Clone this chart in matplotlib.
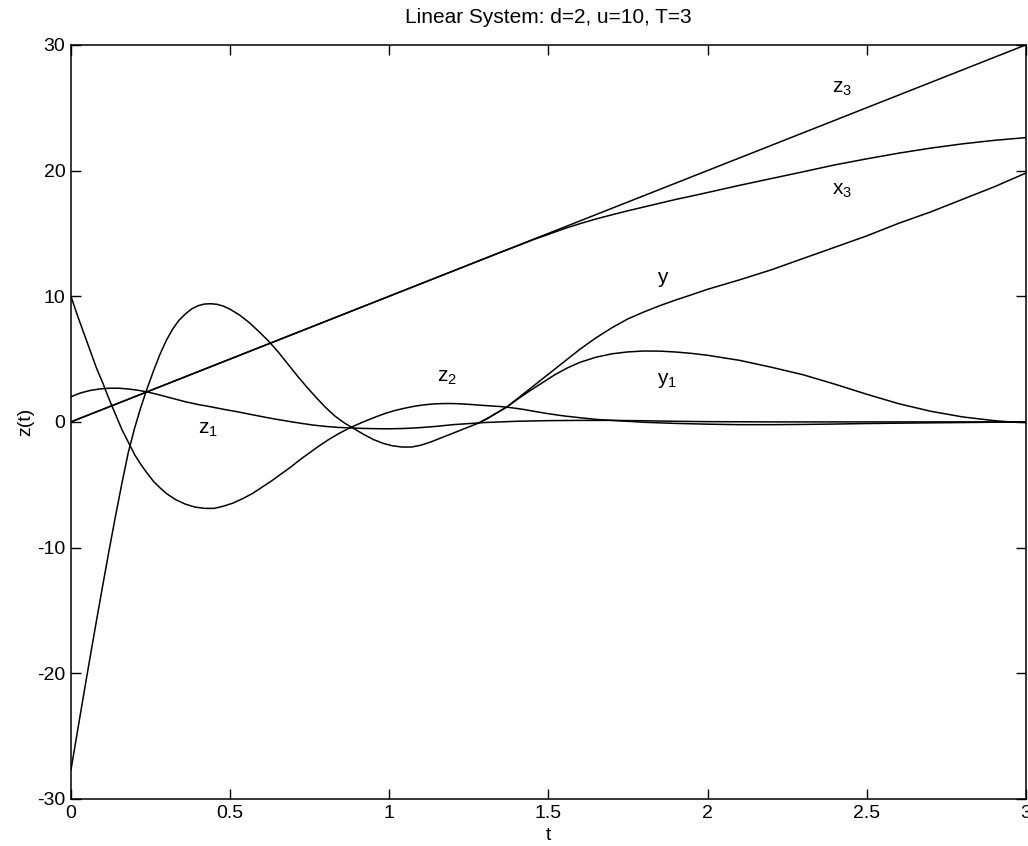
import matplotlib
matplotlib.use("Agg")
import matplotlib.pyplot as plt

plt.rcParams['font.family'] = ['Liberation Sans', 'DejaVu Sans']
plt.rcParams['axes.unicode_minus'] = False
plt.rcParams['mathtext.fontset'] = 'custom'
plt.rcParams['mathtext.rm'] = 'Liberation Sans'

title = "Linear System: d=2, u=10, T=3"
xlabel = "t"
ylabel = "z(t)"

# z3: straight line
z3_t = [0.0, 3.0]
z3_v = [0.0, 30.0]

# x3
x3_t = [0.0, 1.35, 1.4, 1.45, 1.5, 1.55, 1.6, 1.65, 1.7, 1.75, 1.8, 1.85, 1.9, 1.95,
        2.0, 2.1, 2.2, 2.3, 2.4, 2.5, 2.6, 2.7, 2.8, 2.9, 3.0]
x3_v = [0.0, 13.5, 13.98, 14.48, 14.92, 15.38, 15.78, 16.15, 16.48, 16.8, 17.1, 17.4, 17.7, 17.97,
        18.25, 18.82, 19.36, 19.9, 20.45, 20.93, 21.38, 21.78, 22.12, 22.4, 22.62]

# y
y_t = [0.0, 0.02, 0.04, 0.06, 0.08, 0.10, 0.12, 0.14, 0.16, 0.18, 0.20, 0.22, 0.24, 0.26,
       0.28, 0.30, 0.32, 0.34, 0.36, 0.38, 0.40, 0.42, 0.44, 0.46, 0.48, 0.50, 0.53, 0.56,
       0.59, 0.62, 0.65, 0.68, 0.71, 0.74, 0.77, 0.80, 0.83, 0.86, 0.89, 0.92, 0.95, 0.98,
       1.01, 1.04, 1.07, 1.10, 1.13, 1.16, 1.19, 1.22, 1.25, 1.28, 1.31, 1.34, 1.37, 1.40,
       1.44, 1.48, 1.52, 1.56, 1.60, 1.65, 1.70, 1.75, 1.80, 1.85, 1.90, 1.95, 2.0, 2.1,
       2.2, 2.3, 2.4, 2.5, 2.6, 2.7, 2.8, 2.9, 3.0]
y_v = [-27.7, -24.7, -21.7, -18.75, -15.85, -13.0, -10.2, -7.5, -4.9, -2.45, -0.5, 1.2, 2.7, 4.1,
       5.4, 6.5, 7.4, 8.1, 8.6, 9.0, 9.25, 9.38, 9.4, 9.35, 9.2, 8.96, 8.5, 7.9,
       7.2, 6.45, 5.6, 4.65, 3.7, 2.8, 1.95, 1.15, 0.45, -0.1, -0.55, -1.0, -1.4, -1.7,
       -1.9, -2.0, -2.0, -1.85, -1.6, -1.3, -1.0, -0.7, -0.4, -0.1, 0.3, 0.75, 1.2, 1.8,
       2.6, 3.4, 4.2, 5.0, 5.8, 6.7, 7.5, 8.2, 8.75, 9.25, 9.7, 10.12, 10.55, 11.3,
       12.1, 13.0, 13.9, 14.8, 15.8, 16.7, 17.7, 18.7, 19.8]

# y1 (branches off y)
y1_t = [1.28, 1.31, 1.34, 1.37, 1.40, 1.44, 1.48, 1.52, 1.56, 1.60, 1.65, 1.70, 1.75, 1.80,
        1.85, 1.90, 1.95, 2.0, 2.1, 2.2, 2.3, 2.4, 2.5, 2.6, 2.7, 2.8, 2.9, 2.95, 3.0]
y1_v = [-0.1, 0.3, 0.75, 1.2, 1.75, 2.45, 3.1, 3.75, 4.3, 4.75, 5.15, 5.42, 5.57, 5.64,
        5.63, 5.56, 5.45, 5.3, 4.9, 4.35, 3.75, 3.0, 2.2, 1.45, 0.85, 0.4, 0.1, 0.0, -0.05]

# z2
z2_t = [0.0, 0.02, 0.04, 0.06, 0.08, 0.10, 0.12, 0.14, 0.16, 0.18, 0.20, 0.22, 0.24, 0.26,
        0.28, 0.30, 0.33, 0.36, 0.39, 0.42, 0.45, 0.48, 0.51, 0.54, 0.57, 0.60, 0.63, 0.66,
        0.69, 0.72, 0.75, 0.78, 0.81, 0.84, 0.87, 0.90, 0.93, 0.96, 0.99, 1.02, 1.05, 1.08,
        1.11, 1.14, 1.17, 1.20, 1.23, 1.26, 1.29, 1.32, 1.35, 1.38, 1.42, 1.46, 1.50, 1.55,
        1.60, 1.65, 1.70, 1.80, 1.90, 2.0, 2.1, 2.2, 2.3, 2.4, 2.5, 2.6, 2.8, 3.0]
z2_v = [10.0, 8.5, 7.1, 5.7, 4.3, 3.1, 1.8, 0.6, -0.6, -1.6, -2.6, -3.4, -4.1, -4.75,
        -5.25, -5.7, -6.2, -6.55, -6.78, -6.88, -6.88, -6.7, -6.45, -6.1, -5.7, -5.2, -4.7, -4.15,
        -3.6, -3.0, -2.45, -1.9, -1.4, -0.95, -0.55, -0.2, 0.12, 0.42, 0.7, 0.92, 1.1, 1.25,
        1.36, 1.43, 1.46, 1.46, 1.43, 1.38, 1.32, 1.27, 1.22, 1.14, 1.0, 0.82, 0.65, 0.47,
        0.33, 0.2, 0.12, -0.03, -0.12, -0.18, -0.22, -0.22, -0.2, -0.17, -0.13, -0.1, -0.05, 0.0]

# z1
z1_t = [0.0, 0.03, 0.06, 0.09, 0.12, 0.15, 0.18, 0.21, 0.24, 0.27, 0.30, 0.33, 0.36, 0.40,
        0.44, 0.48, 0.52, 0.56, 0.60, 0.64, 0.68, 0.72, 0.76, 0.80, 0.84, 0.88, 0.92, 0.96,
        1.0, 1.05, 1.1, 1.15, 1.2, 1.3, 1.4, 1.5, 1.6, 1.7, 1.8, 1.9, 2.0, 2.2, 3.0]
z1_v = [2.0, 2.3, 2.5, 2.62, 2.68, 2.68, 2.62, 2.52, 2.38, 2.2, 2.0, 1.8, 1.6, 1.38,
        1.2, 1.0, 0.82, 0.62, 0.42, 0.23, 0.06, -0.1, -0.25, -0.36, -0.44, -0.48, -0.52, -0.54,
        -0.55, -0.52, -0.45, -0.35, -0.22, -0.05, 0.05, 0.1, 0.12, 0.12, 0.09, 0.05, 0.02, 0.0, 0.0]

labels = [r'$\mathregular{z_3}$', r'$\mathregular{x_3}$', r'$\mathregular{y}$',
          r'$\mathregular{y_1}$', r'$\mathregular{z_2}$', r'$\mathregular{z_1}$']
label_t = [2.39, 2.39, 1.84, 1.84, 1.15, 0.40]
label_v = [26.5, 18.4, 11.3, 3.3, 3.5, -0.6]

fig = plt.figure(figsize=(10.28, 8.46), dpi=100)
ax = fig.add_axes([0.069, 0.0556, 0.929, 0.8914])

for t, v in [(z3_t, z3_v), (x3_t, x3_v), (y_t, y_v), (y1_t, y1_v), (z2_t, z2_v), (z1_t, z1_v)]:
    ax.plot(t, v, color='black', linewidth=1.1)

for s, tx, vy in zip(labels, label_t, label_v):
    ax.text(tx, vy, s, fontsize=15, ha='left', va='center')

ax.set_xlim(0, 3)
ax.set_ylim(-30, 30)
ax.set_xticks([0, 0.5, 1, 1.5, 2, 2.5, 3])
ax.set_xticklabels(['0', '0.5', '1', '1.5', '2', '2.5', '3'])
ax.set_yticks([-30, -20, -10, 0, 10, 20, 30])
ax.tick_params(direction='in', top=True, right=True, length=7, width=1, labelsize=14, pad=4)
for sp in ax.spines.values():
    sp.set_linewidth(1.1)
ax.set_title(title, fontsize=15, pad=16)
ax.set_xlabel(xlabel, fontsize=14, labelpad=4)
ax.set_ylabel(ylabel, fontsize=14, labelpad=2)

fig.savefig("out.png", dpi=100)
